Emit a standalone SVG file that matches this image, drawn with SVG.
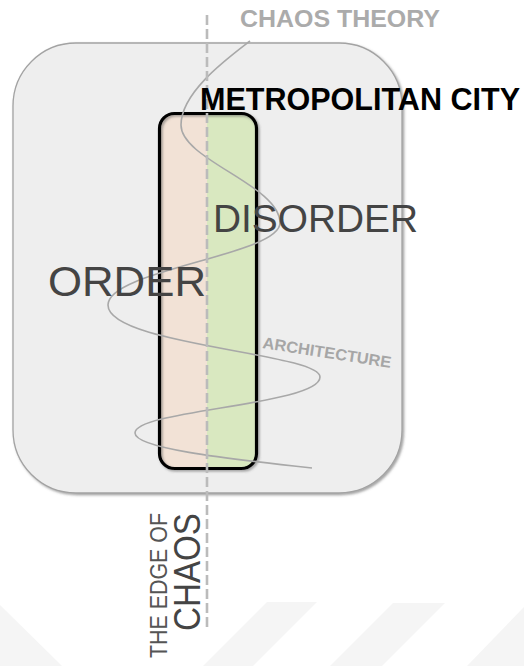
<svg xmlns="http://www.w3.org/2000/svg" width="524" height="666" viewBox="0 0 524 666">
<style>
.lbl{font-family:"Liberation Sans",Arial,sans-serif}
.big{fill:#444}
.gray{fill:#ababab;font-weight:bold}
.wm{fill:#f5f5f5}
</style>
<defs>
<filter id="sh" x="-5%" y="-5%" width="110%" height="110%">
<feDropShadow dx="1.5" dy="1.5" stdDeviation="0.8" flood-color="#555" flood-opacity="0.55"/>
</filter>
<clipPath id="inner"><rect x="159.5" y="113.5" width="97" height="355" rx="15"/></clipPath>
</defs>
<rect width="524" height="666" fill="#fff"/>
<g id="watermark">
<polygon class="wm" points="0,605 62,666 0,666"/>
<polygon class="wm" points="267,602 317,602 253,666 203,666"/>
<polygon class="wm" points="393,603 445,603 382,666 330,666"/>
<polygon class="wm" points="524,607 524,666 467,666"/>
</g>
<g id="city">
<rect x="13" y="43" width="389" height="450" rx="63" fill="#eeeeee" stroke="#a3a3a3" stroke-width="1.3" filter="url(#sh)"/>
</g>
<g id="edge-box">
<g clip-path="url(#inner)">
<rect x="159.5" y="113.5" width="47.5" height="355" fill="#f2e2d6"/>
<rect x="207" y="113.5" width="49.5" height="355" fill="#d9e8c0"/>
</g>
<rect x="159.5" y="113.5" width="97" height="355" rx="15" fill="none" stroke="#000" stroke-width="3.2" filter="url(#sh)"/>
</g>
<g id="connectors">
<path id="spiral" d="M250,41 C228,58 181,92 181,125 C181,160 280,185 280,223 C280,255 108,270 108,305 C108,345 320,353 320,377 C320,405 135,410 135,433 C135,448 220,458 312,468" fill="none" stroke="#a8a8a8" stroke-width="1.6"/>
<line id="edge-line" x1="207" y1="15" x2="207" y2="630" stroke="#bbbbbb" stroke-width="2.6" stroke-dasharray="10,4"/>
</g>
<g id="labels">
<text class="lbl gray" x="240" y="27" font-size="24" textLength="200" lengthAdjust="spacingAndGlyphs">CHAOS THEORY</text>
<text class="lbl" x="200" y="110" font-size="30.5" font-weight="bold" fill="#000" textLength="320" lengthAdjust="spacingAndGlyphs">METROPOLITAN CITY</text>
<text class="lbl big" x="213" y="232" font-size="38" textLength="205" lengthAdjust="spacingAndGlyphs">DISORDER</text>
<text class="lbl big" x="48" y="296" font-size="42" textLength="158" lengthAdjust="spacingAndGlyphs">ORDER</text>
<text class="lbl" transform="translate(262,348) rotate(8.8)" font-size="16" font-weight="bold" fill="#a6a6a6" textLength="130" lengthAdjust="spacingAndGlyphs">ARCHITECTURE</text>
<text class="lbl" transform="translate(167,658) rotate(-90)" font-size="23" fill="#555" textLength="145" lengthAdjust="spacingAndGlyphs">THE EDGE OF</text>
<text class="lbl big" transform="translate(200,631) rotate(-90)" font-size="36" textLength="118" lengthAdjust="spacingAndGlyphs">CHAOS</text>
</g>
</svg>
